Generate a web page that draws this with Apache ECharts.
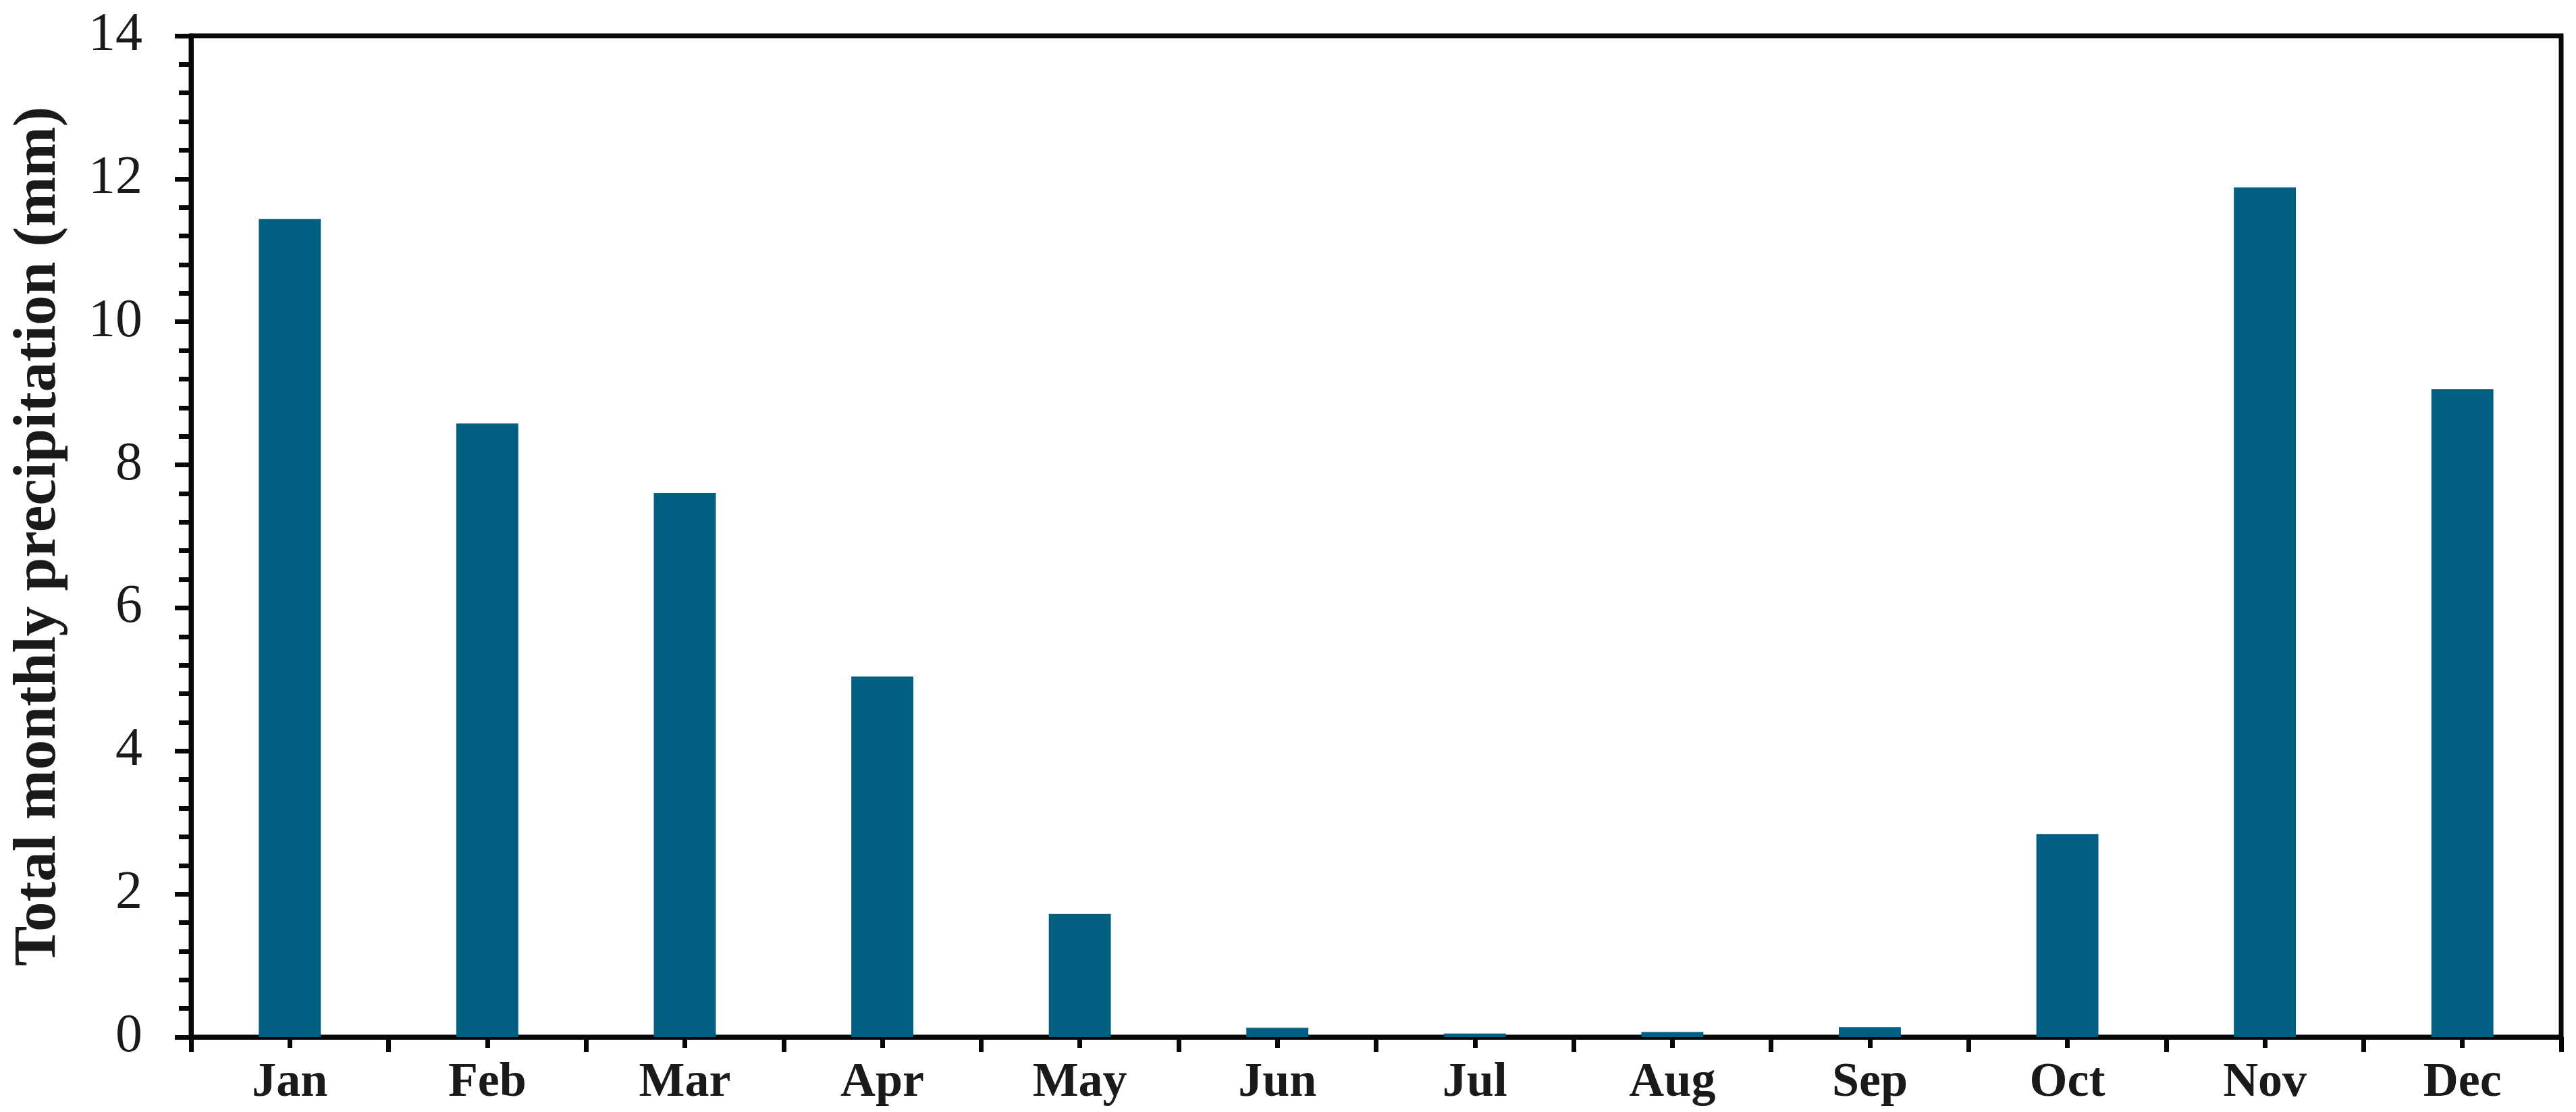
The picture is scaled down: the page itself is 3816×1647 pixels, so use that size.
<!DOCTYPE html>
<html>
<head>
<meta charset="utf-8">
<script src="https://cdn.jsdelivr.net/npm/echarts@6/dist/echarts.min.js"></script>
<style>
html,body{margin:0;padding:0;background:#fff;}
#chart{width:3816px;height:1647px;}
</style>
</head>
<body>
<div id="chart"></div>
<script>
const months = ["Jan","Feb","Mar","Apr","May","Jun","Jul","Aug","Sep","Oct","Nov","Dec"];
const precipitation = [11.44, 8.58, 7.61, 5.04, 1.72, 0.13, 0.05, 0.07, 0.14, 2.84, 11.88, 9.06];
const yTitle = "Total monthly precipitation (mm)";

const chart = echarts.init(document.getElementById('chart'), null, {renderer:'canvas'});
const font = "'Liberation Serif','Times New Roman',serif";
const axisColor = '#080808';
chart.setOption({
  backgroundColor: '#ffffff',
  animation: false,
  grid: {
    left: 283, right: 22, top: 53, bottom: 111,
    show: true, borderColor: axisColor, borderWidth: 7, backgroundColor: 'transparent'
  },
  xAxis: [{
    type: 'category',
    data: months,
    position: 'bottom',
    axisLine: {show: true, lineStyle: {color: axisColor, width: 7}},
    axisTick: {show: true, alignWithLabel: false, length: 22, lineStyle: {color: axisColor, width: 7}},
    axisLabel: {
      color: '#1a1a1a', fontFamily: font, fontWeight: 'bold', fontSize: 72, margin: 32
    },
    splitLine: {show: false}
  }, {
    type: 'category',
    data: months,
    position: 'bottom',
    offset: 0,
    axisLine: {show: false},
    axisTick: {show: true, alignWithLabel: true, length: 16, lineStyle: {color: axisColor, width: 7}},
    axisLabel: {show: false},
    splitLine: {show: false}
  }],
  yAxis: {
    type: 'value',
    min: 0, max: 14, interval: 2,
    name: yTitle,
    nameLocation: 'middle',
    nameGap: 180,
    nameTextStyle: {color: '#1a1a1a', fontFamily: font, fontWeight: 'bold', fontSize: 89},
    axisLine: {show: true, lineStyle: {color: axisColor, width: 7}},
    axisTick: {show: true, length: 24, lineStyle: {color: axisColor, width: 7}},
    minorTick: {show: true, splitNumber: 5, length: 18, lineStyle: {color: axisColor, width: 7}},
    axisLabel: {color: '#1a1a1a', fontFamily: font, fontSize: 80, margin: 72},
    splitLine: {show: false},
    minorSplitLine: {show: false}
  },
  series: [{
    type: 'bar',
    data: precipitation,
    xAxisIndex: 0,
    barWidth: '31.4%',
    itemStyle: {color: '#016082'},
    z: 1
  }]
});
</script>
</body>
</html>
